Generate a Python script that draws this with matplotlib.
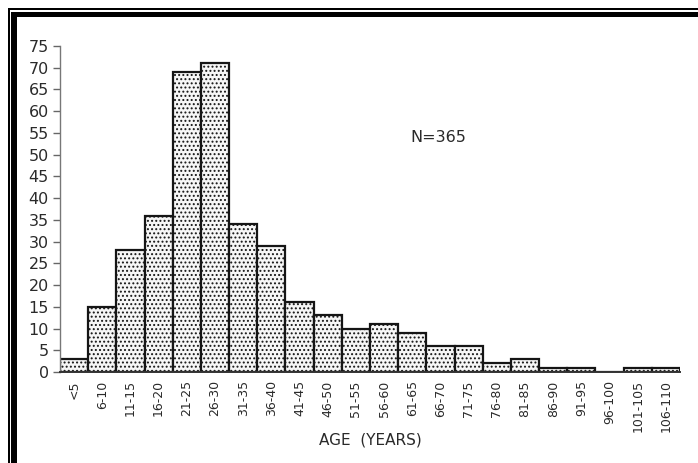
import matplotlib
matplotlib.use("Agg")
import matplotlib.pyplot as plt
from matplotlib.patches import Rectangle

# Age groups and number of cases in each
age_groups = ["<5", "6-10", "11-15", "16-20", "21-25", "26-30", "31-35", "36-40",
              "41-45", "46-50", "51-55", "56-60", "61-65", "66-70", "71-75",
              "76-80", "81-85", "86-90", "91-95", "96-100", "101-105", "106-110"]
counts = [3, 15, 28, 36, 69, 71, 34, 29, 16, 13, 10, 11, 9, 6, 6, 2, 3, 1, 1, 0, 1, 1]
y_ticks = list(range(0, 80, 5))
total_label = "N=365"

W, H = 698, 463
fig = plt.figure(figsize=(W / 100, H / 100), dpi=100)
fig.patch.set_facecolor("white")

ax = fig.add_axes([60 / W, 1 - 372 / H, 620 / W, 326 / H])
ink = "#2a2a2a"
plt.rcParams["hatch.color"] = "#606060"
plt.rcParams["hatch.linewidth"] = 0.9

x = list(range(len(counts)))
ax.bar(x, counts, width=1.0, align="edge", facecolor="#f6f6f6",
       edgecolor="#151515", linewidth=1.6, hatch="....")

ax.set_xlim(0, len(counts))
ax.set_ylim(0, 75)
ax.set_yticks(y_ticks)
ax.set_yticklabels([str(v) for v in y_ticks], fontsize=11.5, color=ink)
ax.set_xticks([i + 0.5 for i in x])
ax.set_xticklabels(age_groups, rotation=90, fontsize=9, color=ink)
ax.tick_params(axis="x", length=0, pad=6)
ax.tick_params(axis="y", length=5, width=1.0, color="#666666", pad=3)

for side in ("top", "right"):
    ax.spines[side].set_visible(False)
ax.spines["left"].set_color("#777777")
ax.spines["left"].set_linewidth(1.0)
ax.spines["bottom"].set_color("#333333")
ax.spines["bottom"].set_linewidth(1.4)

fig.text(370 / W, 1 - 440 / H, "AGE  (YEARS)", fontsize=11, color=ink,
         ha="center", va="center")
ax.text(0.565, 0.72, total_label, transform=ax.transAxes, fontsize=11.5,
        color=ink, ha="left", va="center")

# Double border along the left and top edges of the page
fig.add_artist(Rectangle((8 / W, 0), 1.5 / W, 1 - 8 / H, transform=fig.transFigure,
                         color="black", lw=0))
fig.add_artist(Rectangle((11.5 / W, 0), 5 / W, 1 - 11.5 / H, transform=fig.transFigure,
                         color="black", lw=0))
fig.add_artist(Rectangle((8 / W, 1 - 9.5 / H), 1 - 8 / W, 1.5 / H,
                         transform=fig.transFigure, color="black", lw=0))
fig.add_artist(Rectangle((11.5 / W, 1 - 16.5 / H), 1 - 11.5 / W, 5 / H,
                         transform=fig.transFigure, color="black", lw=0))

fig.savefig("out.png", dpi=100, facecolor="white")
